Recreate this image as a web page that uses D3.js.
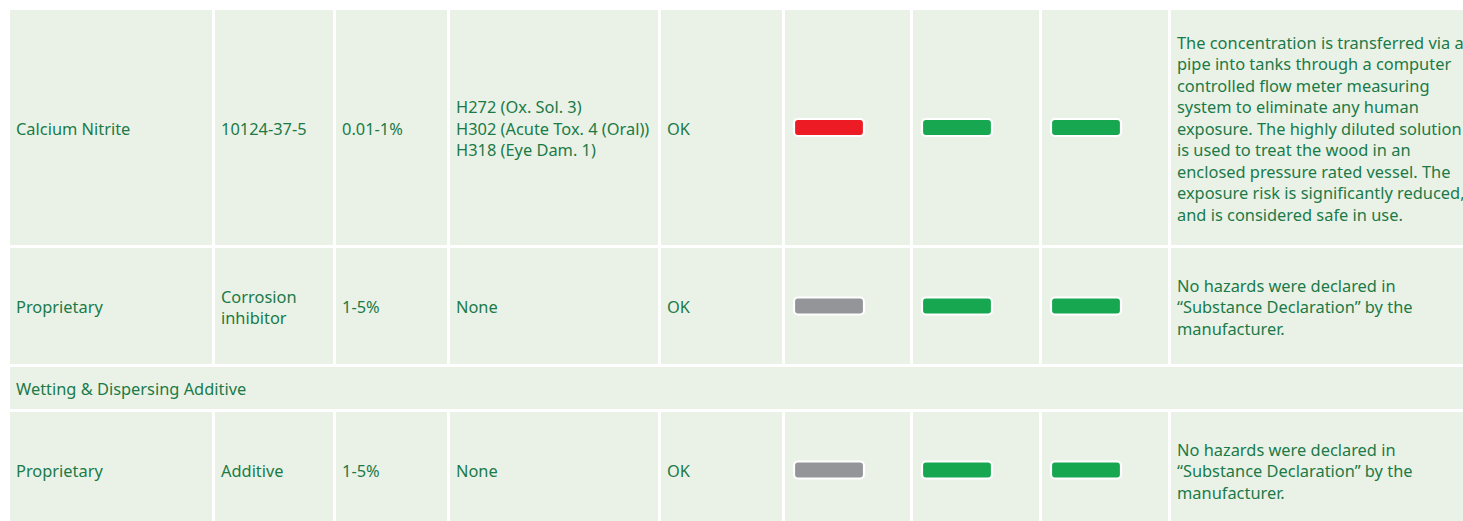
<!DOCTYPE html>
<html>
<head>
<meta charset="utf-8">
<script src="https://cdn.jsdelivr.net/npm/d3@7"></script>
<style>
  body { margin: 0; background: #fff; }
  svg text { font-family: "Noto Sans", sans-serif; }
</style>
</head>
<body>
<div id="chart"></div>
<script>
// Table content, one array per column
const rowKinds = ['item', 'item', 'section', 'item'];
const names = ['Calcium Nitrite', 'Proprietary', 'Wetting & Dispersing Additive', 'Proprietary'];
const casNumbers = [['10124-37-5'], ['Corrosion', 'inhibitor'], null, ['Additive']];
const concentrations = [['0.01-1%'], ['1-5%'], null, ['1-5%']];
const hazards = [
    ['H272 (Ox. Sol. 3)', 'H302 (Acute Tox. 4 (Oral))', 'H318 (Eye Dam. 1)'],
    ['None'], null, ['None']
];
const statuses = [['OK'], ['OK'], null, ['OK']];
const ratings = [
    ['red', 'green', 'green'],
    ['grey', 'green', 'green'],
    null,
    ['grey', 'green', 'green']
];
const comments = [
    ['The concentration is transferred via a',
     'pipe into tanks through a computer',
     'controlled flow meter measuring',
     'system to eliminate any human',
     'exposure. The highly diluted solution',
     'is used to treat the wood in an',
     'enclosed pressure rated vessel. The',
     'exposure risk is significantly reduced,',
     'and is considered safe in use.'],
    ['No hazards were declared in', '\u201cSubstance Declaration\u201d by the', 'manufacturer.'],
    null,
    ['No hazards were declared in', '\u201cSubstance Declaration\u201d by the', 'manufacturer.']
];

// Layout
const W = 1463, H = 521;
const origin = { x: 10, y: 10 };
const gap = 3;
const colWidths = [202, 118, 111, 208, 121, 125, 126, 126, 300];
const rowHeights = [235, 116, 42, 116];
const fontSize = 16.4;
const lineHeight = 21.5;
const padX = 6;

const cellFill = '#eaf2e8';
const textColor = '#1b7a47';
const pillColor = d3.scaleOrdinal()
    .domain(['red', 'green', 'grey'])
    .range(['#ed1c24', '#17a750', '#939598']);

// Cumulative positions
const colX = [];
colWidths.reduce((acc, w) => { colX.push(acc); return acc + w + gap; }, origin.x);
const rowY = [];
rowHeights.reduce((acc, h) => { rowY.push(acc); return acc + h + gap; }, origin.y);

const svg = d3.select('#chart').append('svg')
    .attr('width', W)
    .attr('height', H);

function addLines(g, lines, x, cy) {
    const n = lines.length;
    const first = cy - (n - 1) * lineHeight / 2 + fontSize * 0.36 + 1.5;
    g.append('text')
        .attr('fill', textColor)
        .attr('font-size', fontSize)
        .selectAll('tspan')
        .data(lines)
        .enter()
        .append('tspan')
        .attr('x', x)
        .attr('y', (d, i) => first + i * lineHeight)
        .text(d => d);
}

rowKinds.forEach((kind, r) => {
    const y = rowY[r];
    const h = rowHeights[r];
    const cy = y + h / 2;
    const row = svg.append('g').attr('class', `row-${r}`);

    if (kind === 'section') {
        row.append('rect')
            .attr('x', origin.x)
            .attr('y', y)
            .attr('width', W - origin.x)
            .attr('height', h)
            .attr('fill', cellFill);
        addLines(row, [names[r]], origin.x + padX, cy);
        return;
    }

    // Cell backgrounds
    row.selectAll('rect.cell')
        .data(colWidths)
        .enter()
        .append('rect')
        .attr('class', 'cell')
        .attr('x', (d, i) => colX[i])
        .attr('y', y)
        .attr('width', d => d)
        .attr('height', h)
        .attr('fill', cellFill);

    // Text columns
    const textCols = [
        [0, [names[r]]],
        [1, casNumbers[r]],
        [2, concentrations[r]],
        [3, hazards[r]],
        [4, statuses[r]],
        [8, comments[r]]
    ];
    textCols.forEach(([c, lines]) => addLines(row, lines, colX[c] + padX, cy));

    // Rating pills (row 4 is cut by the page edge, so keep them on the visible centre)
    row.selectAll('rect.pill')
        .data(ratings[r])
        .enter()
        .append('rect')
        .attr('class', 'pill')
        .attr('x', (d, i) => colX[5 + i] + 9)
        .attr('y', cy - 8.5)
        .attr('width', 70)
        .attr('height', 17)
        .attr('rx', 4)
        .attr('fill', d => pillColor(d))
        .attr('stroke', '#fff')
        .attr('stroke-width', 2.2);
});
</script>
</body>
</html>
